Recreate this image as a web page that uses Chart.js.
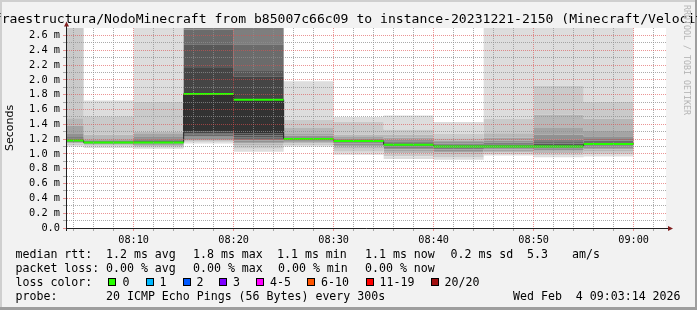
<!DOCTYPE html>
<html>
<head>
<meta charset="utf-8">
<script src="https://cdn.jsdelivr.net/npm/chart.js@4/dist/chart.umd.min.js"></script>
<style>
  html, body { margin: 0; padding: 0; background: #f2f2f2; overflow: hidden; }
  #wrap { position: relative; width: 697px; height: 310px; overflow: hidden; }
  #chart-area { position: absolute; left: 0; top: 0; }
  .t { position: absolute; font-family: 'DejaVu Sans Mono', monospace; font-size: 11.6px; line-height: 14px; color: #000; white-space: pre; }
  #title { position: absolute; left: 348.5px; top: 10.8px; transform: translateX(-50%); font-family: 'DejaVu Sans Mono', monospace; font-size: 13.1px; line-height: 16px; white-space: pre; color: #000; }
  #wm { position: absolute; left: 692px; top: 5px; transform-origin: 0 0; transform: rotate(90deg); font-family: 'DejaVu Sans Mono', monospace; font-size: 8.3px; line-height: 10px; color: #b4b4b4; white-space: pre; }
  .box { position: absolute; top: 278px; width: 6px; height: 6px; border: 1px solid #000; }
</style>
</head>
<body>
<div id="wrap">
  <canvas id="chart-area" width="697" height="310"></canvas>
  <div id="title">Infraestructura/NodoMinecraft from b85007c66c09 to instance-20231221-2150 (Minecraft/Velocity)</div>
  <div id="wm">RRDTOOL / TOBI OETIKER</div>

  <div class="t" style="left:15.5px;top:247px">median rtt:</div>
  <div class="t" style="left:106px;top:247px">1.2 ms avg</div>
  <div class="t" style="left:193px;top:247px">1.8 ms max</div>
  <div class="t" style="left:277px;top:247px">1.1 ms min</div>
  <div class="t" style="left:365px;top:247px">1.1 ms now</div>
  <div class="t" style="left:450.5px;top:247px">0.2 ms sd</div>
  <div class="t" style="left:527px;top:247px">5.3</div>
  <div class="t" style="left:572px;top:247px">am/s</div>

  <div class="t" style="left:15.5px;top:261px">packet loss:</div>
  <div class="t" style="left:106px;top:261px">0.00 % avg</div>
  <div class="t" style="left:193px;top:261px">0.00 % max</div>
  <div class="t" style="left:278px;top:261px">0.00 % min</div>
  <div class="t" style="left:365px;top:261px">0.00 % now</div>

  <div class="t" style="left:15.5px;top:275px">loss color:</div>
  <div class="box" style="left:108px;background:#26ff00"></div><div class="t" style="left:122.5px;top:275px">0</div>
  <div class="box" style="left:145.5px;background:#00b8ff"></div><div class="t" style="left:159.5px;top:275px">1</div>
  <div class="box" style="left:182.5px;background:#0059ff"></div><div class="t" style="left:196.5px;top:275px">2</div>
  <div class="box" style="left:219px;background:#7e00ff"></div><div class="t" style="left:233px;top:275px">3</div>
  <div class="box" style="left:256px;background:#ff00ff"></div><div class="t" style="left:270px;top:275px">4-5</div>
  <div class="box" style="left:306.5px;background:#ff5500"></div><div class="t" style="left:321px;top:275px">6-10</div>
  <div class="box" style="left:366px;background:#ff0000"></div><div class="t" style="left:379.5px;top:275px">11-19</div>
  <div class="box" style="left:431px;background:#a01010"></div><div class="t" style="left:444.5px;top:275px">20/20</div>

  <div class="t" style="left:15.5px;top:289px">probe:</div>
  <div class="t" style="left:106px;top:289px">20 ICMP Echo Pings (56 Bytes) every 300s</div>
  <div class="t" style="left:513px;top:289px">Wed Feb  4 09:03:14 2026</div>
</div>

<script>
// 5 minute slots, labelled by the time they end
var slotEnd = ['08:05', '08:10', '08:15', '08:20', '08:25', '08:30', '08:35', '08:40', '08:45', '08:50', '08:55', '09:00'];
var median = [1.18, 1.155, 1.155, 1.81, 1.733, 1.20, 1.175, 1.125, 1.10, 1.10, 1.10, 1.133];

// 20 sorted pings per slot (ms), the smoke
var smoke = [
    [1.10, 1.12, 1.14, 1.145, 1.15, 1.155, 1.16, 1.165, 1.17, 1.175, 1.185, 1.19, 1.20, 1.21, 1.23, 1.28, 1.38, 1.48, 3.2, 3.5],
    [1.08, 1.10, 1.115, 1.125, 1.13, 1.135, 1.14, 1.145, 1.15, 1.155, 1.16, 1.165, 1.17, 1.175, 1.18, 1.19, 1.21, 1.26, 1.51, 1.72],
    [1.07, 1.085, 1.10, 1.11, 1.12, 1.13, 1.14, 1.145, 1.15, 1.155, 1.16, 1.17, 1.18, 1.19, 1.21, 1.24, 1.27, 1.30, 1.70, 3.5],
    [1.14, 1.155, 1.17, 1.18, 1.20, 1.22, 1.24, 1.26, 1.28, 1.30, 1.81, 2.16, 2.48, 2.68, 2.9, 3.2, 3.4, 3.6, 3.8, 4.0],
    [1.03, 1.07, 1.11, 1.14, 1.16, 1.18, 1.20, 1.22, 1.25, 1.28, 1.733, 2.05, 2.12, 2.48, 2.9, 3.2, 3.4, 3.6, 3.8, 4.0],
    [1.10, 1.12, 1.14, 1.15, 1.16, 1.17, 1.18, 1.19, 1.195, 1.20, 1.205, 1.21, 1.215, 1.22, 1.23, 1.25, 1.28, 1.35, 1.46, 1.98],
    [0.99, 1.03, 1.07, 1.10, 1.12, 1.14, 1.15, 1.16, 1.17, 1.175, 1.178, 1.18, 1.185, 1.19, 1.20, 1.21, 1.23, 1.26, 1.43, 1.50],
    [0.93, 0.97, 1.01, 1.04, 1.06, 1.08, 1.10, 1.11, 1.12, 1.125, 1.13, 1.14, 1.15, 1.16, 1.17, 1.19, 1.22, 1.26, 1.33, 1.52],
    [0.92, 0.96, 1.00, 1.02, 1.04, 1.06, 1.08, 1.09, 1.095, 1.10, 1.105, 1.11, 1.12, 1.13, 1.14, 1.16, 1.18, 1.21, 1.27, 1.43],
    [0.98, 1.00, 1.02, 1.04, 1.06, 1.07, 1.08, 1.09, 1.095, 1.10, 1.105, 1.11, 1.12, 1.13, 1.15, 1.18, 1.22, 1.28, 1.476, 3.5],
    [0.955, 0.98, 1.01, 1.03, 1.05, 1.07, 1.08, 1.09, 1.095, 1.10, 1.11, 1.12, 1.14, 1.16, 1.19, 1.26, 1.35, 1.53, 1.92, 3.5],
    [0.965, 1.00, 1.03, 1.06, 1.08, 1.10, 1.11, 1.12, 1.125, 1.13, 1.135, 1.15, 1.16, 1.18, 1.20, 1.24, 1.31, 1.476, 1.70, 3.5]
];

var xTickLabels = ['08:10', '08:20', '08:30', '08:40', '08:50', '09:00'];
var yTickLabels = ['0.0', '0.2 m', '0.4 m', '0.6 m', '0.8 m', '1.0 m', '1.2 m', '1.4 m', '1.6 m', '1.8 m', '2.0 m', '2.2 m', '2.4 m', '2.6 m'];
var lossColor0 = '#26ff00';

var xMin = 3 + 14 / 60;   // 08:03:14
var xMax = xMin + 60;
var gridCol = 'rgba(143,143,143,0.75)';
var mgridCol = 'rgba(222,79,79,0.6)';

function toMin(s) {
    var p = s.split(':');
    return (parseInt(p[0], 10) - 8) * 60 + parseInt(p[1], 10);
}

function stepPoints(values) {
    var pts = slotEnd.map(function(t, i) {
        return { x: Math.max(toMin(t) - 5, xMin), y: values[i] };
    });
    pts.push({ x: toMin(slotEnd[slotEnd.length - 1]), y: values[values.length - 1] });
    return pts;
}

var datasets = [];
for (var k = 0; k < 20; k++) {
    var ibot = Math.min(k, 20 - k);
    var g = 19 * (10 - ibot) + 50;
    datasets.push({
        data: stepPoints(smoke.map(function(col) { return col[k]; })),
        stepped: true,
        borderWidth: 0,
        borderColor: 'rgba(0,0,0,0)',
        pointRadius: 0,
        backgroundColor: 'rgb(' + g + ',' + g + ',' + g + ')',
        fill: k === 0 ? false : '-1',
        order: 10
    });
}

datasets.push({
    data: stepPoints(median),
    stepped: true,
    borderColor: '#202020',
    borderWidth: 1,
    pointRadius: 0,
    fill: false,
    order: 1
});

var greenPts = [];
slotEnd.forEach(function(t, i) {
    var x1 = toMin(t);
    var x0 = Math.max(x1 - 5, xMin);
    greenPts.push({ x: x0, y: median[i] }, { x: x1, y: median[i] }, { x: x1, y: null });
});
datasets.push({
    data: greenPts,
    borderColor: lossColor0,
    borderWidth: 2,
    pointRadius: 0,
    fill: false,
    spanGaps: false,
    order: 0
});

var framePlugin = {
    id: 'frame',
    beforeDraw: function(chart) {
        var ctx = chart.ctx, a = chart.chartArea;
        ctx.save();
        ctx.fillStyle = '#f2f2f2';
        ctx.fillRect(0, 0, chart.width, chart.height);
        ctx.fillStyle = '#ffffff';
        ctx.fillRect(a.left, a.top, a.right - a.left, a.bottom - a.top);
        ctx.restore();
    },
    afterDraw: function(chart) {
        var ctx = chart.ctx, a = chart.chartArea;
        ctx.save();
        ctx.strokeStyle = '#1f1f1f';
        ctx.lineWidth = 1;
        ctx.beginPath();
        ctx.moveTo(a.left + 0.5, a.bottom + 3);
        ctx.lineTo(a.left + 0.5, a.top - 3);
        ctx.moveTo(a.right, a.bottom + 0.5);
        ctx.lineTo(a.right + 3, a.bottom + 0.5);
        ctx.stroke();
        ctx.fillStyle = '#801f1f';
        ctx.beginPath();
        ctx.moveTo(a.left - 2, a.top - 1.5);
        ctx.lineTo(a.left + 3, a.top - 1.5);
        ctx.lineTo(a.left + 0.5, a.top - 6.5);
        ctx.closePath();
        ctx.fill();
        ctx.beginPath();
        ctx.moveTo(a.right + 2, a.bottom - 2);
        ctx.lineTo(a.right + 2, a.bottom + 3);
        ctx.lineTo(a.right + 7, a.bottom + 0.5);
        ctx.closePath();
        ctx.fill();
        ctx.fillStyle = '#cfcfcf';
        ctx.fillRect(0, 0, chart.width, 2);
        ctx.fillRect(0, 0, 2, chart.height);
        ctx.fillStyle = '#9e9e9e';
        ctx.fillRect(chart.width - 2, 0, 2, chart.height);
        ctx.fillRect(0, chart.height - 3, chart.width, 3);
        ctx.restore();
    }
};

var config = {
    type: 'line',
    data: { datasets: datasets },
    options: {
        responsive: false,
        animation: false,
        devicePixelRatio: 1,
        layout: { padding: { left: 0, top: 28, right: 31, bottom: 0 } },
        plugins: {
            legend: { display: false },
            tooltip: { enabled: false }
        },
        scales: {
            x: {
                type: 'linear',
                min: xMin,
                max: xMax,
                bounds: 'data',
                afterBuildTicks: function(scale) {
                    var t = [];
                    for (var m = 4; m <= 62; m += 2) t.push({ value: m });
                    scale.ticks = t;
                },
                afterFit: function(scale) { scale.height = 82; },
                grid: {
                    z: 1,
                    lineWidth: 1,
                    tickLength: 3,
                    color: function(c) { return c.tick && c.tick.value % 10 === 0 ? mgridCol : gridCol; }
                },
                border: { color: '#1f1f1f', width: 1, dash: [1, 1], z: 2 },
                ticks: {
                    autoSkip: false,
                    maxRotation: 0,
                    padding: 3,
                    color: '#000',
                    font: { family: 'DejaVu Sans Mono', size: 10.2 },
                    callback: function(v) { return v % 10 === 0 ? xTickLabels[v / 10 - 1] : ''; }
                }
            },
            y: {
                min: 0,
                max: 2.7,
                bounds: 'data',
                afterBuildTicks: function(scale) {
                    var t = [];
                    for (var n = 0; n <= 26; n++) t.push({ value: n / 10 });
                    scale.ticks = t;
                },
                afterFit: function(scale) { scale.width = 66; },
                grid: {
                    z: 1,
                    lineWidth: 1,
                    tickLength: 3,
                    color: function(c) { return c.tick && Math.round(c.tick.value * 10) % 2 === 0 ? mgridCol : gridCol; }
                },
                border: { color: '#1f1f1f', width: 1, dash: [1, 1], z: 2 },
                ticks: {
                    autoSkip: false,
                    padding: 3,
                    color: '#000',
                    font: { family: 'DejaVu Sans Mono', size: 10.3 },
                    callback: function(v) {
                        var n = Math.round(v * 10);
                        return n % 2 === 0 ? yTickLabels[n / 2] : '';
                    }
                },
                title: {
                    display: true,
                    text: 'Seconds',
                    color: '#000',
                    font: { family: 'DejaVu Sans', size: 11 },
                    padding: { top: 4, bottom: 0 }
                }
            }
        }
    },
    plugins: [framePlugin]
};

window.onload = function() {
    var ctx = document.getElementById('chart-area').getContext('2d');
    window.myChart = new Chart(ctx, config);
};
</script>
</body>
</html>
